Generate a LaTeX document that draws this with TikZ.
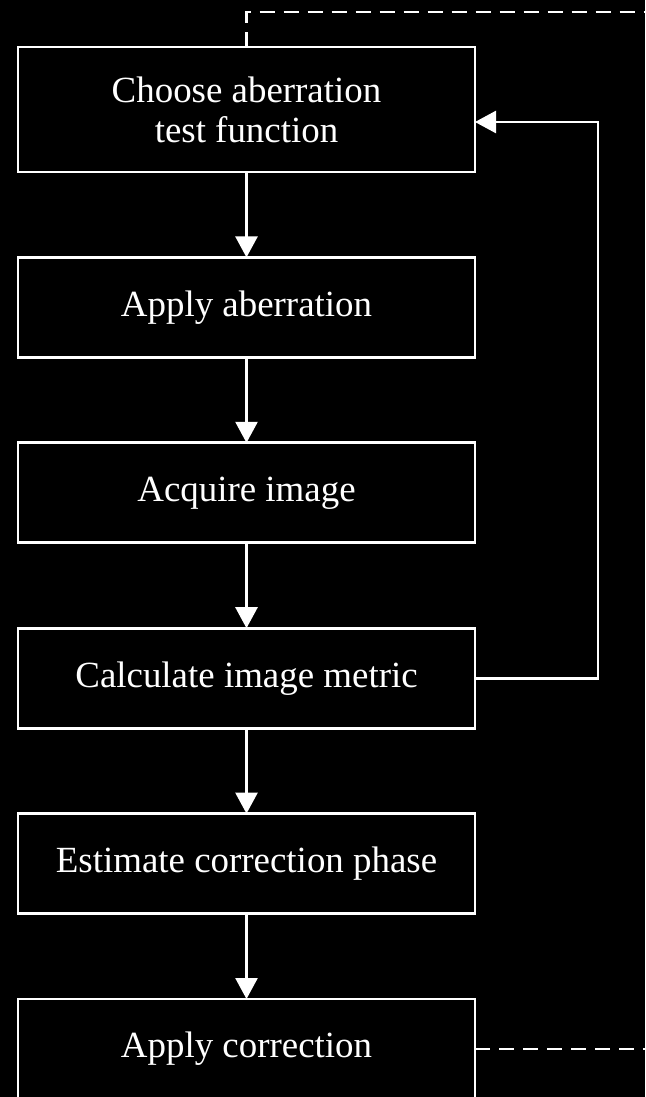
\documentclass[tikz,border=0pt]{standalone}
\usepackage{fontspec}
\setmainfont{Liberation Serif}
\usetikzlibrary{positioning}
\usetikzlibrary{arrows.meta}
\tikzset{
	node distance = 1.708 cm and 1.708 cm,
	procbox/.style = {rectangle, draw=white, text=white, minimum width = 9.14 cm, minimum height = 2 cm, align=center, outer sep=0pt, inner sep=0pt, font=\fontsize{21pt}{22.7pt}\selectfont},
	flow/.style = {-{Triangle[width=0.44cm,length=0.42cm]}},
	link/.style = {dash pattern=on 0.3cm off 0.18cm}
}

\begin{document}
\begin{tikzpicture}[line width=1.5pt, white]
	% background and frame
	\fill[black] (0,0) rectangle (12.9,-21.94);
	\clip (0,0) rectangle (12.9,-21.94);
	
	\node (choose) [procbox, minimum height = 2.5 cm] at (4.93,-2.19) {Choose aberration\\test function};
	\node (apply) [procbox, below = of choose] {Apply aberration};
	\node (acquire) [procbox, below = of apply] {Acquire image};
	\node (calc) [procbox, below = of acquire] {Calculate image metric};
	\node (estimate) [procbox, below = of calc] {Estimate correction phase};
	\node (correct) [procbox, below = of estimate] {Apply correction};
	
	\path[flow] (choose) edge (apply);
	\path[flow] (apply) edge (acquire);
	\path[flow] (acquire) edge (calc);
	\path[flow] (calc) edge (estimate);
	\path[flow] (estimate) edge (correct);
	
	% loop back to the test function
	\coordinate (fbtop) at ([xshift=2.46cm,yshift=-0.25cm]choose.east);
	\draw[flow] (calc.east) -| (fbtop) -- (fbtop -| choose.east);
	
	% dashed links leaving the picture
	\coordinate (dashtop) at ([yshift=0.7cm]choose.north);
	\coordinate (rightedge) at (12.95,0);
	\draw[link] (choose.north) -- (dashtop) -- (dashtop -| rightedge);
	\draw[link] (correct.east) -- (correct.east -| rightedge);
\end{tikzpicture}
\end{document}
